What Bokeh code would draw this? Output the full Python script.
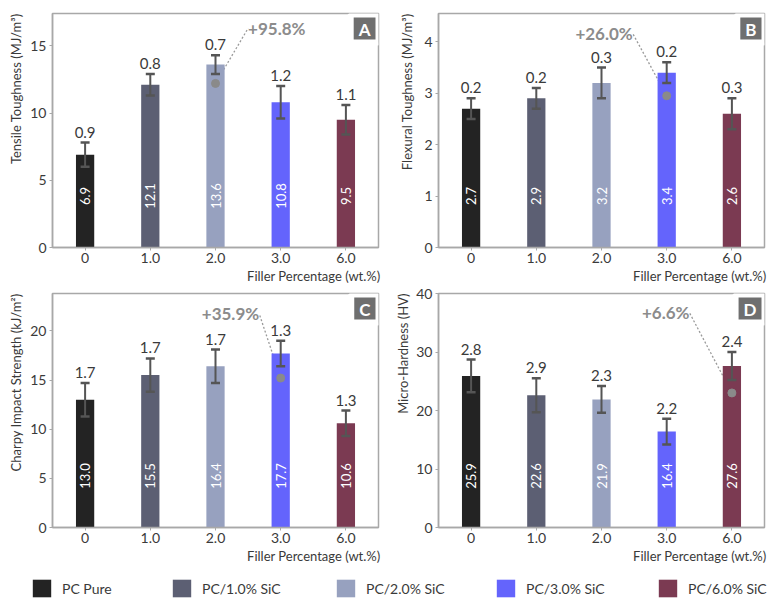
import math
from bokeh.plotting import figure
from bokeh.layouts import column, row
from bokeh.models import (Range1d, FixedTicker, ColumnDataSource, Whisker, TeeHead,
                          Label, Legend, LegendItem, Title)
from bokeh.core.properties import value
from bokeh.embed import file_html
from bokeh.resources import INLINE

# ---------------- data ----------------
categories = ["0", "1.0", "2.0", "3.0", "6.0"]
series_names = ["PC Pure", "PC/1.0% SiC", "PC/2.0% SiC", "PC/3.0% SiC", "PC/6.0% SiC"]
colors = ["#232323", "#5c5f73", "#97a1bf", "#6464fc", "#7b3a52"]

tensile = [6.9, 12.1, 13.6, 10.8, 9.5]
tensile_err = [0.9, 0.8, 0.7, 1.2, 1.1]
flexural = [2.7, 2.9, 3.2, 3.4, 2.6]
flexural_err = [0.2, 0.2, 0.3, 0.2, 0.3]
charpy = [13.0, 15.5, 16.4, 17.7, 10.6]
charpy_err = [1.7, 1.7, 1.7, 1.3, 1.3]
hardness = [25.9, 22.6, 21.9, 16.4, 27.6]
hardness_err = [2.8, 2.9, 2.3, 2.2, 2.4]

gain_labels = ["+95.8%", "+26.0%", "+35.9%", "+6.6%"]
gain_index = [2, 3, 3, 4]
gain_marker = [12.2, 2.95, 15.2, 23.0]

FONT = "Lato"
TXT = "#3a3a3a"
FRAME = "#a8a8a8"


def panel(letter, ylabel, vals, errs, ymax, yticks, gi, top_pad, bottom_pad, left_pad,
          right_pad, ttl_standoff, text_x, text_y, text_align):
    p = figure(frame_width=326, frame_height=234, x_range=Range1d(-0.5, 4.5),
               y_range=Range1d(0, ymax),
               output_backend="svg", toolbar_location=None,
               min_border_left=left_pad, min_border_right=right_pad, min_border_top=top_pad,
               min_border_bottom=bottom_pad)
    p.xgrid.visible = False
    p.ygrid.visible = False
    p.outline_line_color = FRAME
    p.outline_line_width = 1.5
    p.background_fill_color = "white"
    p.border_fill_color = "white"

    for ax in (p.xaxis[0], p.yaxis[0]):
        ax.axis_line_color = FRAME
        ax.axis_line_width = 1.5
        ax.major_tick_line_color = FRAME
        ax.major_tick_out = 3
        ax.major_tick_in = 0
        ax.minor_tick_line_color = None
        ax.major_label_text_font = FONT
        ax.major_label_text_font_size = "14px"
        ax.major_label_text_color = TXT

    p.xaxis[0].ticker = FixedTicker(ticks=list(range(len(categories))))
    p.xaxis[0].major_label_overrides = {i: c for i, c in enumerate(categories)}
    p.xaxis[0].major_label_standoff = 2
    p.yaxis[0].ticker = FixedTicker(ticks=yticks)
    p.yaxis[0].major_label_standoff = 3

    p.add_layout(Title(text="Filler Percentage (wt.%)", align="right", text_font=FONT,
                       text_font_size="13px", text_font_style="normal", text_color=TXT,
                       standoff=0, offset=-2), "below")
    p.add_layout(Title(text=ylabel, align="right", text_font=FONT,
                       text_font_size="13px", text_font_style="normal", text_color=TXT,
                       standoff=ttl_standoff), "left")

    src = ColumnDataSource(dict(
        x=list(range(len(vals))), top=vals,
        upper=[v + e for v, e in zip(vals, errs)],
        lower=[v - e for v, e in zip(vals, errs)],
        color=colors,
        lab=[f"{v:.1f}" for v in vals],
        err_lab=[f"{e:.1f}" for e in errs],
        lab_y=[0.22 * ymax] * len(vals),
    ))

    # dotted leader from marker to gain text (under the bars)
    p.line(x=[gain_index[gi], text_x], y=[gain_marker[gi], text_y],
           line_color="#9a9a9a", line_width=1.3, line_dash="2 2")

    p.vbar(x="x", top="top", width=0.28, fill_color="color", line_color=None, source=src)

    head_kw = dict(size=9, line_color="#555555", line_width=2.5)
    w = Whisker(base="x", upper="upper", lower="lower", source=src,
                line_color="#555555", line_width=2,
                upper_head=TeeHead(**head_kw), lower_head=TeeHead(**head_kw))
    w.level = "annotation"
    p.add_layout(w)

    p.scatter(x=[gain_index[gi]], y=[gain_marker[gi]], size=8, color="#8a8a8a")

    p.text(x="x", y="upper", text="err_lab", source=src, y_offset=-5,
           text_align="center", text_baseline="bottom", text_font=value(FONT),
           text_font_size="15px", text_color=TXT)
    p.text(x="x", y="lab_y", text="lab", source=src, angle=math.pi / 2,
           text_align="center", text_baseline="middle", text_font=value(FONT),
           text_font_size="13px", text_color="white")

    p.text(x=[text_x], y=[text_y], text=[gain_labels[gi]], text_align=text_align,
           text_baseline="middle", text_font=value(FONT), text_font_style="bold",
           text_font_size="17px", text_color="#8c8c8c")

    lab = Label(x=4.5, y=ymax, x_units="data", y_units="data", text=letter,
                text_align="right", text_baseline="top", x_offset=0, y_offset=-1,
                text_color="white", text_font=FONT, text_font_style="bold",
                text_font_size="17px", background_fill_color="#6f6f6f",
                border_line_color="white", border_line_width=6,
                padding=dict(left=8, right=8, top=4, bottom=3))
    p.add_layout(lab)
    return p


pA = panel("A", "Tensile Toughness (MJ/m³)", tensile, tensile_err, 17.4, [0, 5, 10, 15], 0,
           13, 38, 52, 11, 7, 2.5, 16.3, "left")
pB = panel("B", "Flexural Toughness (MJ/m³)", flexural, flexural_err, 4.55, [0, 1, 2, 3, 4], 1,
           13, 38, 48, 11, 14, 2.48, 4.16, "right")
pC = panel("C", "Charpy Impact Strength (kJ/m²)", charpy, charpy_err, 23.8, [0, 5, 10, 15, 20], 2,
           8, 41, 52, 11, 7, 2.67, 21.75, "right")
pD = panel("D", "Micro-Hardness (HV)", hardness, hardness_err, 40, [0, 10, 20, 30, 40], 3,
           8, 41, 48, 11, 6, 3.35, 36.7, "right")

leg = figure(width=774, height=32, output_backend="svg", toolbar_location=None,
             x_range=Range1d(0, 1), y_range=Range1d(0, 1), x_axis_type=None, y_axis_type=None,
             min_border=0, outline_line_color=None)
leg.xgrid.visible = False
leg.ygrid.visible = False
legend_x = [30, 170, 334, 494, 656]
for name, c, lx in zip(series_names, colors, legend_x):
    r = leg.vbar(x=[float("nan")], top=[float("nan")], width=0.1, fill_color=c, line_color=None)
    lg = Legend(items=[LegendItem(label=name, renderers=[r])], location=(lx, 1),
                glyph_width=23, glyph_height=22, label_standoff=9, padding=0, margin=0,
                border_line_color=None, background_fill_alpha=0, label_text_font=FONT,
                label_text_font_size="14px", label_text_color=TXT)
    leg.add_layout(lg)

layout = column(row(pA, pB), row(pC, pD), leg)
open("out.html", "w").write(file_html(layout, INLINE))
